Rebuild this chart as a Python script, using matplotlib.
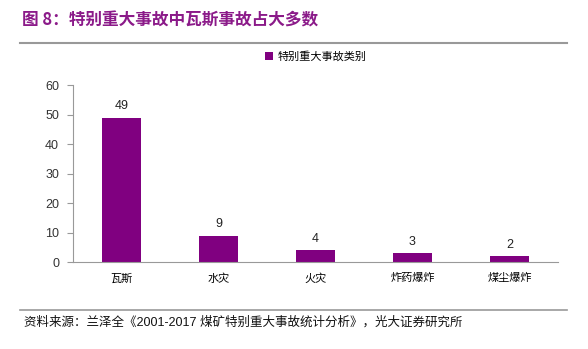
import matplotlib
matplotlib.use("Agg")
import matplotlib.pyplot as plt

plt.rcParams["font.family"] = ["Liberation Sans", "Noto Sans CJK SC", "DejaVu Sans"]

# 特别重大事故类别
categories = ["瓦斯", "水灾", "火灾", "炸药爆炸", "煤尘爆炸"]
counts = [49, 9, 4, 3, 2]
y_ticks = [0, 10, 20, 30, 40, 50, 60]

BAR_COLOR = "#800080"
TITLE_COLOR = "#8B1A89"
CJK = ["Noto Sans CJK SC", "DejaVu Sans"]

fig = plt.figure(figsize=(5.88, 3.49), dpi=100)
ax = fig.add_axes([0.124, 0.249, 0.825, 0.507])

x = list(range(len(categories)))
bars = ax.bar(x, counts, width=0.4, color=BAR_COLOR, label="特别重大事故类别")
for xi, v in zip(x, counts):
    ax.text(xi, v + 1.8, str(v), ha="center", va="bottom", fontsize=9, color="#222222")

ax.set_xlim(-0.5, len(categories) - 0.5)
ax.set_ylim(0, 60)
ax.set_yticks(y_ticks)
ax.set_xticks(x)
ax.set_xticklabels(categories, fontsize=8, family=CJK)
ax.tick_params(axis="x", length=0, pad=8)
ax.tick_params(axis="y", length=4, color="#999999", labelsize=9, labelcolor="#333333", pad=6)
for side in ("top", "right"):
    ax.spines[side].set_visible(False)
for side in ("left", "bottom"):
    ax.spines[side].set_color("#999999")

leg = ax.legend(loc="center", bbox_to_anchor=(0.5, 1.16), frameon=False,
                prop={"family": CJK, "size": 8}, handlelength=0.7, handleheight=0.7,
                handletextpad=0.4)

# 标题与来源
fig.text(0.037, 0.94, "图 8：特别重大事故中瓦斯事故占大多数", fontsize=12, fontweight="bold",
         color=TITLE_COLOR, family=CJK, va="center")
fig.add_artist(plt.Line2D([0.034, 0.965], [0.877, 0.877], color="#999999", lw=1.5))
fig.add_artist(plt.Line2D([0.034, 0.965], [0.112, 0.112], color="#999999", lw=1.2))
fig.text(0.040, 0.077, "资料来源：兰泽全《2001-2017 煤矿特别重大事故统计分析》，光大证券研究所",
         fontsize=9, color="#111111", family=["Liberation Sans", "Noto Sans CJK SC"], va="center")

fig.savefig("out.png", dpi=100)
